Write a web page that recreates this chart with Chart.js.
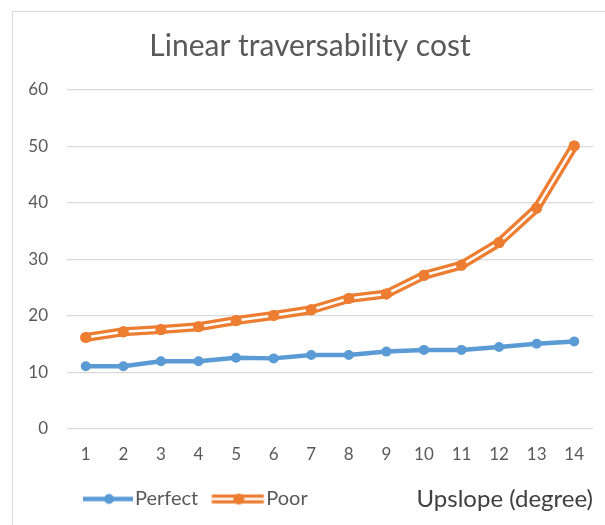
<!DOCTYPE html>
<html>
<head>
<meta charset="utf-8">
<title>Linear traversability cost</title>
<script src="https://cdn.jsdelivr.net/npm/chart.js@4/dist/chart.umd.min.js"></script>
<style>
  html, body { margin: 0; padding: 0; background: #fff; }
  #wrap { width: 605px; height: 525px; position: relative; }
</style>
</head>
<body>
<div id="wrap"><canvas id="chart" width="605" height="525"></canvas></div>
<script>
// Upslope in degrees
const categories = ['1', '2', '3', '4', '5', '6', '7', '8', '9', '10', '11', '12', '13', '14'];
// Cost on a perfect surface
const perfect = [11.1, 11.1, 12.0, 12.0, 12.6, 12.5, 13.1, 13.1, 13.7, 14.0, 14.0, 14.5, 15.1, 15.5];
// Cost on a poor surface
const poor = [16.2, 17.2, 17.6, 18.1, 19.2, 20.1, 21.1, 23.1, 23.9, 27.2, 29.0, 33.0, 39.1, 50.1];
const yTicks = [0, 10, 20, 30, 40, 50, 60];

const BLUE = '#5B9BD5';
const ORANGE = '#ED7D31';
const TEXT = '#595959';
const GRID = '#d9d9d9';
const FONT = 'Lato, "Open Sans", sans-serif';

// Small legend swatch: line with a marker (optionally a double line)
function swatch(color, x0, x1, xm, lineW, innerW, r) {
  const c = document.createElement('canvas');
  c.width = 60; c.height = 15;
  const g = c.getContext('2d');
  const y = 7.5;
  g.strokeStyle = color; g.lineWidth = lineW;
  g.beginPath(); g.moveTo(x0, y); g.lineTo(x1, y); g.stroke();
  if (innerW) {
    g.strokeStyle = '#fff'; g.lineWidth = innerW;
    g.beginPath(); g.moveTo(x0, y); g.lineTo(x1, y); g.stroke();
  }
  g.fillStyle = color;
  g.beginPath(); g.arc(xm, y, r, 0, Math.PI * 2); g.fill();
  return c;
}
const swatches = [
  swatch(BLUE, 7, 57, 33, 4.5, 0, 5),
  swatch(ORANGE, 4.5, 56.5, 31.5, 9, 2.5, 5.5)
];

// Frame of the chart object (left and top edges)
const frame = {
  id: 'frame',
  beforeDraw(chart) {
    const ctx = chart.ctx;
    ctx.save();
    ctx.strokeStyle = GRID; ctx.lineWidth = 1;
    ctx.beginPath();
    ctx.moveTo(12.5, chart.height); ctx.lineTo(12.5, 11.5); ctx.lineTo(chart.width, 11.5);
    ctx.stroke();
    ctx.restore();
  }
};

// Compound (double) line: white core stroked through the dataset's points, markers on top
const doubleLine = {
  id: 'doubleLine',
  afterDatasetDraw(chart, args, opts) {
    if (args.index !== opts.datasetIndex) return;
    const pts = args.meta.data;
    const ctx = chart.ctx;
    ctx.save();
    ctx.strokeStyle = opts.color; ctx.lineWidth = opts.width;
    ctx.lineJoin = 'round'; ctx.lineCap = 'butt';
    ctx.beginPath();
    pts.forEach((p, i) => i ? ctx.lineTo(p.x, p.y) : ctx.moveTo(p.x, p.y));
    ctx.stroke();
    ctx.restore();
    pts.forEach(p => p.draw(ctx, chart.chartArea));
  }
};

new Chart(document.getElementById('chart'), {
  type: 'line',
  data: {
    labels: categories,
    datasets: [
      {
        label: 'Perfect', data: perfect,
        borderColor: BLUE, backgroundColor: BLUE, borderWidth: 4.5,
        pointRadius: 5, pointBackgroundColor: BLUE, pointBorderWidth: 0,
        tension: 0, borderJoinStyle: 'round', fill: false
      },
      {
        label: 'Poor', data: poor,
        borderColor: ORANGE, backgroundColor: ORANGE, borderWidth: 9,
        pointRadius: 5.5, pointBackgroundColor: ORANGE, pointBorderWidth: 0,
        tension: 0, borderJoinStyle: 'round', fill: false
      }
    ]
  },
  options: {
    responsive: false,
    animation: false,
    events: [],
    devicePixelRatio: 1,
    layout: { padding: { top: 12, left: 27, right: 12, bottom: 6 } },
    plugins: {
      title: {
        display: true, text: 'Linear traversability cost', color: TEXT,
        font: { family: FONT, size: 30, weight: 'normal', lineHeight: 1.2 },
        padding: { top: 16, bottom: 26 }
      },
      legend: {
        display: true, position: 'bottom', align: 'start', fullSize: false,
        labels: {
          usePointStyle: true, pointStyleWidth: 38, padding: 20, color: TEXT,
          font: { family: FONT, size: 20 },
          generateLabels(chart) {
            const items = Chart.defaults.plugins.legend.labels.generateLabels(chart);
            items.forEach((it, i) => { it.pointStyle = swatches[i]; });
            return items;
          }
        }
      },
      tooltip: { enabled: false },
      doubleLine: { datasetIndex: 1, color: '#fff', width: 2.5 }
    },
    scales: {
      x: {
        offset: true,
        grid: { display: false, drawTicks: false },
        border: { display: false },
        ticks: { color: TEXT, font: { family: FONT, size: 17 }, padding: 15.5, maxRotation: 0, autoSkip: false },
        title: {
          display: true, text: 'Upslope (degree)', align: 'end', color: '#404040',
          font: { family: FONT, size: 24, lineHeight: 1.2 },
          padding: { top: 0, bottom: -44.7 }
        },
        afterFit(scale) { scale.height = 40; }
      },
      y: {
        min: 0, max: 60,
        grid: { color: GRID, lineWidth: 1.3, drawTicks: false },
        border: { display: false },
        ticks: { color: TEXT, font: { family: FONT, size: 17 }, padding: 19, stepSize: 10 },
        afterBuildTicks(scale) { scale.ticks = yTicks.map(v => ({ value: v })); },
        afterFit(scale) { scale.width = 40; }
      }
    }
  },
  plugins: [frame, doubleLine]
});
</script>
</body>
</html>
